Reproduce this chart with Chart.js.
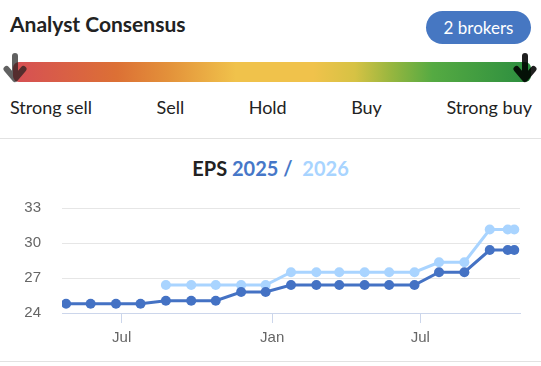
<!DOCTYPE html>
<html>
<head>
<meta charset="utf-8">
<script src="https://cdn.jsdelivr.net/npm/chart.js@4"></script>
<style>
    body { margin: 0; background: #fff; font-family: Lato, sans-serif; }
    #page { position: relative; width: 541px; height: 366px; overflow: hidden; }
    .heading { position: absolute; left: 10px; top: 11px; font-size: 21px; font-weight: bold; color: #222; }
    .brokers { position: absolute; left: 426px; top: 11px; width: 105px; height: 33px; border-radius: 16.5px;
        background: #4677c2; color: #fff; font-size: 17px; line-height: 33px; text-align: center; }
    .bar { position: absolute; left: 13px; top: 62px; width: 518px; height: 20px; border-radius: 6px;
        background: linear-gradient(to right, #d64f55 0%, #dc7035 20%, #e3913a 30%, #f0c24b 43%, #f0c24b 58%,
            #d6c244 66%, #97b63f 73%, #55aa42 81%, #2b8d3f 100%); }
    .arrow { position: absolute; top: 50px; }
    .labels { position: absolute; left: 10px; top: 96px; width: 522px; display: flex; justify-content: space-between;
        font-size: 18px; color: #222; }
    .sep { position: absolute; left: 0; width: 541px; height: 1px; background: #e2e2e2; }
    .title { position: absolute; left: 0; top: 156px; width: 541px; text-align: center; font-size: 20px; font-weight: bold; }
    #myChart { position: absolute; left: 0; top: 178px; }
</style>
</head>
<body>
<div id="page">
    <div class="heading">Analyst Consensus</div>
    <div class="brokers">2 brokers</div>
    <div class="bar"></div>
    <svg class="arrow" style="left:0" width="30" height="40" viewBox="0 0 30 40">
        <path d="M15 6 V29 M6.5 19 L15 29 L23.5 19" fill="none" stroke="rgba(30,30,30,0.7)" stroke-width="6" stroke-linecap="round" stroke-linejoin="round"/>
    </svg>
    <svg class="arrow" style="left:510px" width="30" height="40" viewBox="0 0 30 40">
        <path d="M15 6 V29 M6.5 19 L15 29 L23.5 19" fill="none" stroke="rgba(0,0,0,0.88)" stroke-width="6" stroke-linecap="round" stroke-linejoin="round"/>
    </svg>
    <div class="labels">
        <span>Strong sell</span><span>Sell</span><span>Hold</span><span>Buy</span><span>Strong buy</span>
    </div>
    <div class="sep" style="top:138px"></div>
    <div class="title">
        <span style="color:#222">EPS</span>
        <span style="color:#4677c8">2025 /</span>
        <span style="color:#a8d4ff">&nbsp;2026</span>
    </div>
    <canvas id="myChart" width="541" height="172"></canvas>
    <div class="sep" style="top:361px"></div>
</div>
<script>
    const dates = ['2024-04-24', '2024-05-24', '2024-06-24', '2024-07-24', '2024-08-24', '2024-09-24',
        '2024-10-24', '2024-11-24', '2024-12-24', '2025-01-24', '2025-02-24', '2025-03-24', '2025-04-24',
        '2025-05-24', '2025-06-24', '2025-07-24', '2025-08-24', '2025-09-24', '2025-10-16', '2025-10-24'];
    const eps2025 = [24.8, 24.8, 24.8, 24.8, 25.05, 25.05, 25.05, 25.8, 25.8, 26.4, 26.4, 26.4, 26.4,
        26.4, 26.4, 27.5, 27.5, 29.4, 29.4, 29.4];
    const eps2026 = [null, null, null, null, 26.4, 26.4, 26.4, 26.4, 26.4, 27.5, 27.5, 27.5, 27.5,
        27.5, 27.5, 28.35, 28.35, 31.15, 31.15, 31.15];
    const tickDates = ['2024-07-01', '2025-01-01', '2025-07-01'];
    const tickLabels = ['Jul', 'Jan', 'Jul'];
    const xMin = '2024-04-19';
    const xMax = '2025-10-31';

    const day = d => Date.parse(d) / 86400000;
    const toPoints = vals => dates.map((d, i) => ({x: day(d), y: vals[i]}));
    const tickDays = tickDates.map(day);

    const ctx = document.getElementById('myChart').getContext('2d');
    const myChart = new Chart(ctx, {
        type: 'line',
        data: {
            datasets: [{
                label: '2025',
                data: toPoints(eps2025),
                borderColor: '#4472c4',
                backgroundColor: '#4472c4',
                borderWidth: 3,
                pointRadius: 5,
                pointHoverRadius: 5,
                pointBorderWidth: 0,
                tension: 0
            }, {
                label: '2026',
                data: toPoints(eps2026),
                borderColor: '#a9d4ff',
                backgroundColor: '#a9d4ff',
                borderWidth: 3,
                pointRadius: 5,
                pointHoverRadius: 5,
                pointBorderWidth: 0,
                tension: 0
            }]
        },
        options: {
            responsive: false,
            animation: false,
            layout: {padding: {top: 7, right: 21, left: 0, bottom: 0}},
            plugins: {legend: {display: false}, tooltip: {enabled: false}},
            scales: {
                x: {
                    type: 'linear',
                    min: day(xMin),
                    max: day(xMax),
                    afterBuildTicks: scale => { scale.ticks = tickDays.map(v => ({value: v})) },
                    afterFit: scale => { scale.height = 37 },
                    ticks: {
                        autoSkip: false,
                        maxRotation: 0,
                        padding: 6,
                        color: '#666',
                        font: {family: 'Liberation Sans', size: 15},
                        callback: value => tickLabels[tickDays.indexOf(value)]
                    },
                    grid: {drawOnChartArea: false, color: '#ccd6eb', tickLength: 10},
                    border: {color: '#ccd6eb'}
                },
                y: {
                    min: 24,
                    max: 33,
                    afterFit: scale => { scale.width = 62 },
                    ticks: {
                        stepSize: 3,
                        padding: 21,
                        color: '#666',
                        font: {family: 'Liberation Sans', size: 15}
                    },
                    grid: {color: '#e6e6e6', drawTicks: false},
                    border: {display: false}
                }
            }
        }
    });
</script>
</body>
</html>
